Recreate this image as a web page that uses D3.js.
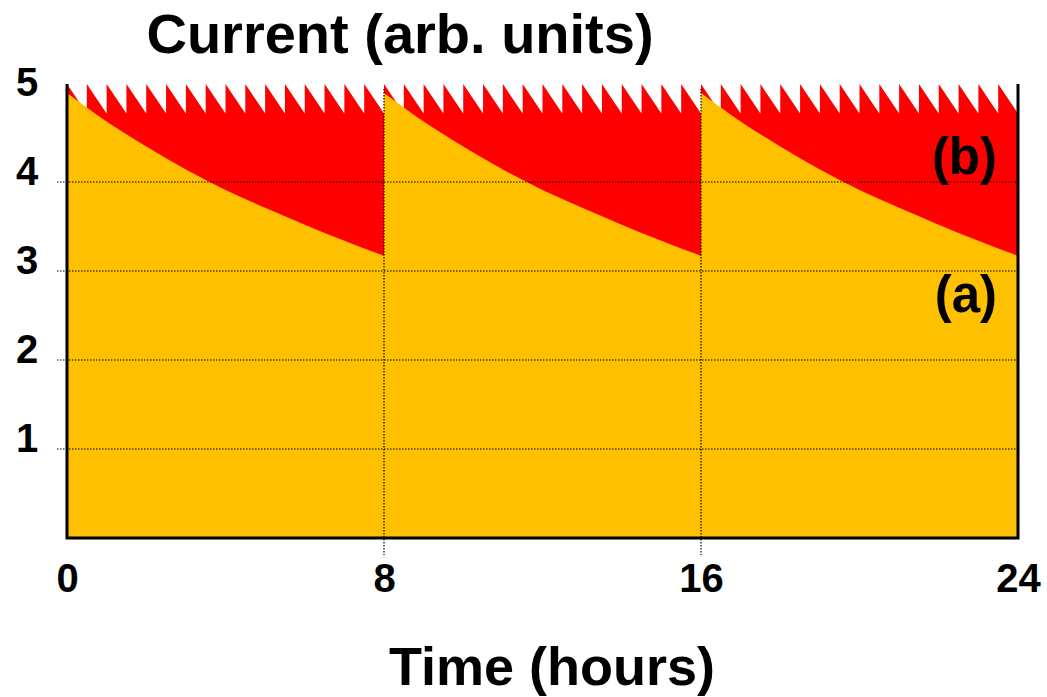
<!DOCTYPE html>
<html>
<head>
<meta charset="utf-8">
<script src="https://cdn.jsdelivr.net/npm/d3@7"></script>
<style>
  body { margin: 0; background: #fff; }
  text { font-family: Arial, "Liberation Sans", sans-serif; font-weight: bold; fill: #000; }
</style>
</head>
<body>
<div id="wrapper"></div>
<script>
// data
const cycleStarts = [0, 8, 16]
const decayHours = [0, 1, 2, 3, 4, 5, 6, 7, 8]
const decayCurrent = [5.00, 4.68, 4.40, 4.14, 3.91, 3.71, 3.52, 3.34, 3.17]
const pulseHours = [0, 0.5, 1, 1.5, 2, 2.5, 3, 3.5, 4, 4.5, 5, 5.5, 6, 6.5, 7, 7.5,
  8, 8.5, 9, 9.5, 10, 10.5, 11, 11.5, 12, 12.5, 13, 13.5, 14, 14.5, 15, 15.5,
  16, 16.5, 17, 17.5, 18, 18.5, 19, 19.5, 20, 20.5, 21, 21.5, 22, 22.5, 23, 23.5]
const pulsePeak = 5.1
const pulseTrough = 4.77
const pulseLength = 0.5
const xTicks = [0, 8, 16, 24]
const yTicks = [1, 2, 3, 4, 5]
const gridX = [8, 16]
const gridY = [1, 2, 3, 4]

// 1. dimensions
const dimensions = {
  width: 1047,
  height: 697,
  left: 67,
  right: 1018,
  top: 93,
  bottom: 538,
}

// 2. canvas
const svg = d3.select("#wrapper")
  .append("svg")
    .attr("width", dimensions.width)
    .attr("height", dimensions.height)

// 3. scales
const xScale = d3.scaleLinear()
  .domain([0, 24])
  .range([dimensions.left, dimensions.right])

const yScale = d3.scaleLinear()
  .domain([0, 5])
  .range([dimensions.bottom, dimensions.top])

// 4. (b) red sawtooth band, drawn down to zero and covered by (a)
const sawPoints = []
pulseHours.forEach(h => {
  sawPoints.push([h, pulsePeak])
  sawPoints.push([h + pulseLength, pulseTrough])
})

const sawArea = d3.area()
  .x(d => xScale(d[0]))
  .y0(yScale(0))
  .y1(d => yScale(d[1]))

svg.append("path")
  .datum(sawPoints)
  .attr("d", sawArea)
  .attr("fill", "#ff0000")

// 5. (a) orange decaying current, one area per cycle
const decayArea = d3.area()
  .x(d => xScale(d[0]))
  .y0(yScale(0))
  .y1(d => yScale(d[1]))
  .curve(d3.curveNatural)

cycleStarts.forEach(start => {
  const pts = decayHours.map((h, i) => [start + h, decayCurrent[i]])
  svg.append("path")
    .datum(pts)
    .attr("d", decayArea)
    .attr("fill", "#ffc000")
})

// 6. dotted grid
svg.selectAll(".grid-y")
  .data(gridY)
  .enter().append("line")
    .attr("x1", dimensions.left - 10)
    .attr("x2", dimensions.right)
    .attr("y1", d => yScale(d))
    .attr("y2", d => yScale(d))
    .attr("stroke", "#000")
    .attr("stroke-width", 1.2)
    .attr("stroke-dasharray", "1.5 1.5")

svg.selectAll(".grid-x")
  .data(gridX)
  .enter().append("line")
    .attr("x1", d => xScale(d))
    .attr("x2", d => xScale(d))
    .attr("y1", yScale(5) - 4)
    .attr("y2", dimensions.bottom + 17)
    .attr("stroke", "#000")
    .attr("stroke-width", 1.2)
    .attr("stroke-dasharray", "1.5 1.5")

// 7. frame (left, bottom, right)
svg.append("path")
  .attr("d", `M${dimensions.left},${yScale(pulsePeak)} V${dimensions.bottom} H${dimensions.right} V${yScale(pulsePeak)}`)
  .attr("fill", "none")
  .attr("stroke", "#000")
  .attr("stroke-width", 3)

// 8. axes labels
const yAxis = svg.append("g")
  .attr("transform", `translate(${dimensions.left},0)`)
  .call(d3.axisLeft(yScale).tickValues(yTicks).tickSize(0).tickPadding(0).tickFormat(d3.format("d")))
yAxis.select(".domain").remove()
yAxis.selectAll("text")
  .attr("x", -40)
  .attr("dy", "0.06em")
  .style("text-anchor", "middle")
  .style("font-size", "40px")
  .style("font-family", "Arial, 'Liberation Sans', sans-serif")
  .style("font-weight", "bold")
  .attr("fill", "#000")

const xAxis = svg.append("g")
  .attr("transform", `translate(0,${dimensions.bottom})`)
  .call(d3.axisBottom(xScale).tickValues(xTicks).tickSize(0).tickPadding(0).tickFormat(d3.format("d")))
xAxis.select(".domain").remove()
xAxis.selectAll("text")
  .attr("y", 54)
  .attr("dy", 0)
  .style("font-size", "40px")
  .style("font-family", "Arial, 'Liberation Sans', sans-serif")
  .style("font-weight", "bold")
  .attr("fill", "#000")

// 9. titles and series labels
svg.append("text")
  .attr("x", 400)
  .attr("y", 53)
  .style("text-anchor", "middle")
  .style("font-size", "56px")
  .text("Current (arb. units)")

svg.append("text")
  .attr("x", 552)
  .attr("y", 685)
  .style("text-anchor", "middle")
  .style("font-size", "54px")
  .text("Time (hours)")

svg.append("text")
  .attr("x", 997)
  .attr("y", 174)
  .style("text-anchor", "end")
  .style("font-size", "51px")
  .text("(b)")

svg.append("text")
  .attr("x", 997)
  .attr("y", 312)
  .style("text-anchor", "end")
  .style("font-size", "51px")
  .text("(a)")
</script>
</body>
</html>
